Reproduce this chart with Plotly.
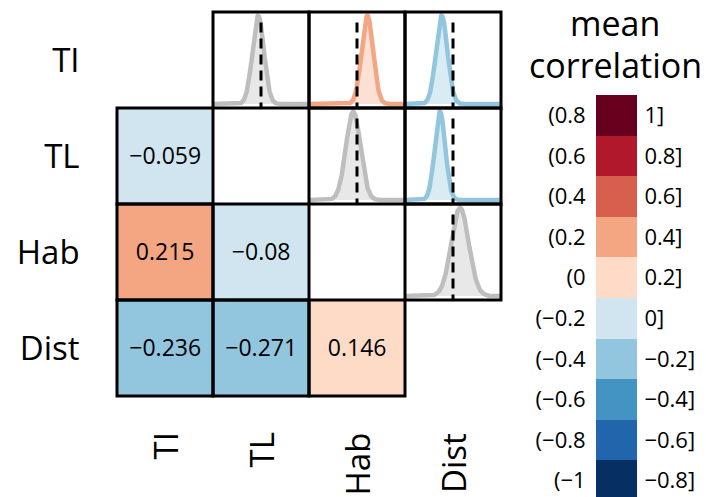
import numpy as np
import plotly.graph_objects as go

# ---------------- data ----------------
variables = ["TI", "TL", "Hab", "Dist"]
# pairs: lower-triangle row variable / column variable
pair_rows = ["TL", "Hab", "Hab", "Dist", "Dist", "Dist"]
pair_cols = ["TI", "TI", "TL", "TI", "TL", "Hab"]
mean_corr = [-0.059, 0.215, -0.08, -0.236, -0.271, 0.146]
post_sd = [0.12, 0.12, 0.15, 0.12, 0.11, 0.18]
credible = [False, True, False, True, True, False]

# legend bins (top to bottom)
bin_lower = [0.8, 0.6, 0.4, 0.2, 0, -0.2, -0.4, -0.6, -0.8, -1]
bin_upper = [1, 0.8, 0.6, 0.4, 0.2, 0, -0.2, -0.4, -0.6, -0.8]
bin_colors = ["#67001f", "#b2182b", "#d6604d", "#f4a582", "#fddbc7",
              "#d1e5f0", "#92c5de", "#4393c3", "#2166ac", "#053061"]
gray_line = "#bebebe"
legend_title = ["mean", "correlation"]

# ---------------- layout geometry ----------------
W, H = 706, 497
GX0, GY0, CELL = 117, 12, 96
PAD = 0.05
FONT = "Open Sans"


def dom_x(a, b):
    return [a / W, b / W]


def dom_y(a, b):  # a top px, b bottom px
    return [max(0.0, 1 - b / H), min(1.0, 1 - a / H)]


def fmt(v):
    return ("%g" % v).replace("-", "\u2212")


n = len(variables)
cols_up = bin_colors[::-1]
colorscale = []
for i, c in enumerate(cols_up):
    colorscale.append([i / 10, c])
    colorscale.append([(i + 1) / 10, c])


def bin_color(v):
    for lo, hi, c in zip(bin_lower, bin_upper, bin_colors):
        if lo < v <= hi:
            return c
    return bin_colors[-1]


fig = go.Figure()

# lower-triangle heatmap
z = [[None] * n for _ in range(n)]
txt = [[""] * n for _ in range(n)]
for r, c, m in zip(pair_rows, pair_cols, mean_corr):
    i, j = variables.index(r), variables.index(c)
    z[i][j] = m
    txt[i][j] = fmt(m)
fig.add_trace(go.Heatmap(
    z=z, x=[k + 0.5 for k in range(n)], y=[k + 0.5 for k in range(n)],
    text=txt, texttemplate="%{text}",
    textfont=dict(family=FONT, size=23, color="black"),
    colorscale=colorscale, zmin=-1, zmax=1, showscale=False,
    hoverinfo="skip", xaxis="x", yaxis="y"))

layout_axes = {}
layout_axes["xaxis"] = dict(
    domain=dom_x(GX0 - PAD * CELL, GX0 + n * CELL + PAD * CELL),
    range=[-PAD, n + PAD], showgrid=False, zeroline=False, showline=False,
    showticklabels=False, ticks="", anchor="y")
layout_axes["yaxis"] = dict(
    domain=dom_y(GY0 - PAD * CELL, GY0 + n * CELL + PAD * CELL),
    range=[n + PAD, -PAD], showgrid=False, zeroline=False, showline=False,
    tickvals=[k + 0.5 for k in range(n)], ticktext=variables,
    ticks="outside", ticklen=25, tickcolor="rgba(0,0,0,0)",
    tickfont=dict(family=FONT, size=33, color="black"), anchor="x")

annotations = []
for k, v in enumerate(variables):
    annotations.append(dict(text=v, xref="x", yref="paper", x=k + 0.5,
                            y=1 - 431 / H, xanchor="center", yanchor="top",
                            textangle=-90, showarrow=False,
                            font=dict(family=FONT, size=33, color="black")))

# cell borders (all off-diagonal cells)
shapes = []
for i in range(n):
    for j in range(n):
        if i == j:
            continue
        shapes.append(dict(type="rect", xref="x", yref="y", x0=j, x1=j + 1,
                           y0=i, y1=i + 1, line=dict(color="black", width=3),
                           fillcolor="rgba(0,0,0,0)", layer="above"))

# densities in the upper triangle
ylo, yhi = -0.045, 1.04
xs = np.linspace(-1, 1, 601)
for k, (r, c, m, s, cred) in enumerate(zip(pair_rows, pair_cols, mean_corr,
                                             post_sd, credible)):
    row, col = variables.index(c), variables.index(r)
    ax = k + 2
    color = bin_color(m) if cred else gray_line
    rr, gg, bb = int(color[1:3], 16), int(color[3:5], 16), int(color[5:7], 16)
    dens = np.exp(-0.5 * ((xs - m) / s) ** 2)
    fig.add_trace(go.Scatter(
        x=xs, y=dens, mode="lines", fill="tozeroy",
        fillcolor="rgba(%d,%d,%d,0.35)" % (rr, gg, bb),
        line=dict(color=color, width=4.5), hoverinfo="skip",
        xaxis="x%d" % ax, yaxis="y%d" % ax))
    fig.add_trace(go.Scatter(
        x=[0, 0], y=[yhi - 0.12, ylo], mode="lines",
        line=dict(color="black", width=3, dash="10px,6px"),
        hoverinfo="skip", xaxis="x%d" % ax, yaxis="y%d" % ax))
    layout_axes["xaxis%d" % ax] = dict(
        domain=dom_x(GX0 + col * CELL, GX0 + (col + 1) * CELL),
        range=[-1, 1], visible=False, anchor="y%d" % ax)
    layout_axes["yaxis%d" % ax] = dict(
        domain=dom_y(GY0 + row * CELL, GY0 + (row + 1) * CELL),
        range=[ylo, yhi], visible=False, anchor="x%d" % ax)

# legend swatches
LX0, LX1, LY0, SW = 596, 637, 95, 40.6
nb = len(bin_colors)
mids = [(lo + hi) / 2 for lo, hi in zip(bin_lower, bin_upper)]
fig.add_trace(go.Heatmap(
    z=[[v] for v in mids], x=[0], y=list(range(nb)),
    colorscale=colorscale, zmin=-1, zmax=1, showscale=False,
    hoverinfo="skip", xaxis="x20", yaxis="y20"))
fig.add_trace(go.Scatter(x=[None], y=[None], xaxis="x20", yaxis="y21",
                         showlegend=False, hoverinfo="skip"))
bottom_val = -0.5 + (H - LY0) / SW
layout_axes["xaxis20"] = dict(domain=dom_x(LX0, LX1), range=[-0.5, 0.5],
                              visible=False, anchor="y20")
leg_y = dict(domain=dom_y(LY0, H), range=[bottom_val, -0.5],
             showgrid=False, zeroline=False, showline=False,
             tickvals=list(range(nb)), ticks="outside", ticklen=5,
             tickcolor="rgba(0,0,0,0)",
             tickfont=dict(family=FONT, size=22, color="black"))
layout_axes["yaxis20"] = dict(leg_y, ticktext=["(" + fmt(v) for v in bin_lower],
                              side="left", anchor="x20")
layout_axes["yaxis21"] = dict(leg_y, ticktext=[fmt(v) + "]" for v in bin_upper],
                              side="right", anchor="free", position=634 / W,
                              overlaying="y20")

for t, yc in zip(legend_title, [22.5, 64.5]):
    annotations.append(dict(text=t, xref="paper", yref="paper",
                            x=615 / W, y=1 - yc / H, xanchor="center",
                            yanchor="middle", showarrow=False,
                            font=dict(family=FONT, size=34, color="black")))

fig.update_layout(
    width=W, height=H, margin=dict(l=0, r=0, t=0, b=0),
    paper_bgcolor="white", plot_bgcolor="rgba(0,0,0,0)",
    showlegend=False, shapes=shapes, annotations=annotations,
    font=dict(family=FONT, color="black"),
    **layout_axes)

fig.write_html("out.html", config={"displayModeBar": False},
               post_script="document.body.style.margin='0';"
                           "document.body.style.overflow='hidden';")
